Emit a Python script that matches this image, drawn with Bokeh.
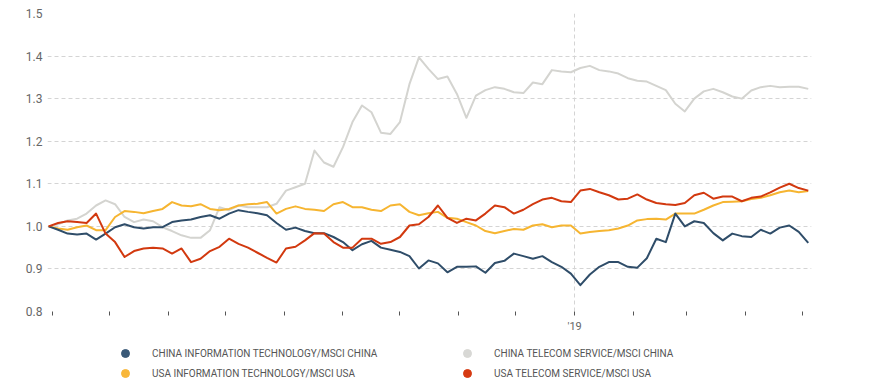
from datetime import datetime
import pandas as pd
from bokeh.plotting import figure
from bokeh.layouts import column
from bokeh.models import (Range1d, FixedTicker, CustomJSTickFormatter, Legend,
                          LegendItem, NumeralTickFormatter)
from bokeh.embed import file_html
from bokeh.resources import INLINE

# ---------------- data (relative performance, 5-day samples) ----------------
start_date = "2018-03-30"
sample_step = "5D"

china_it = [1.000, 0.992, 0.983, 0.981, 0.983, 0.969, 0.983, 0.998, 1.005, 0.998,
            0.995, 0.998, 0.998, 1.010, 1.014, 1.016, 1.022, 1.026, 1.018, 1.030,
            1.038, 1.034, 1.031, 1.026, 1.008, 0.992, 0.997, 0.989, 0.984, 0.984,
            0.975, 0.963, 0.944, 0.958, 0.966, 0.950, 0.945, 0.940, 0.930, 0.901,
            0.920, 0.913, 0.892, 0.905, 0.905, 0.906, 0.891, 0.914, 0.919, 0.936,
            0.930, 0.924, 0.930, 0.916, 0.905, 0.889, 0.862, 0.887, 0.905, 0.916,
            0.916, 0.905, 0.903, 0.925, 0.971, 0.963, 1.030, 1.000, 1.012, 1.008,
            0.984, 0.967, 0.983, 0.977, 0.975, 0.992, 0.983, 0.997, 1.002, 0.987,
            0.961]

usa_it = [1.000, 0.995, 0.992, 0.998, 1.002, 0.991, 0.991, 1.022, 1.036, 1.034,
          1.031, 1.036, 1.041, 1.057, 1.049, 1.047, 1.052, 1.041, 1.038, 1.041,
          1.049, 1.052, 1.053, 1.057, 1.030, 1.041, 1.047, 1.041, 1.039, 1.036,
          1.052, 1.057, 1.045, 1.045, 1.039, 1.036, 1.049, 1.052, 1.034, 1.026,
          1.031, 1.034, 1.020, 1.018, 1.010, 1.002, 0.989, 0.984, 0.989, 0.994,
          0.992, 1.002, 1.005, 0.998, 1.002, 1.002, 0.983, 0.987, 0.989, 0.991,
          0.995, 1.002, 1.014, 1.017, 1.018, 1.016, 1.030, 1.030, 1.030, 1.039,
          1.049, 1.057, 1.058, 1.059, 1.064, 1.067, 1.073, 1.080, 1.084, 1.080,
          1.083]

china_telecom = [1.000, 1.005, 1.014, 1.018, 1.030, 1.049, 1.061, 1.052, 1.022, 1.010,
                 1.016, 1.012, 0.998, 0.989, 0.979, 0.973, 0.973, 0.991, 1.045, 1.038,
                 1.049, 1.045, 1.045, 1.045, 1.053, 1.084, 1.092, 1.100, 1.178, 1.150,
                 1.140, 1.186, 1.245, 1.284, 1.268, 1.220, 1.217, 1.245, 1.334, 1.397,
                 1.370, 1.346, 1.352, 1.311, 1.255, 1.307, 1.320, 1.327, 1.323, 1.315,
                 1.313, 1.338, 1.334, 1.367, 1.364, 1.362, 1.372, 1.377, 1.367, 1.364,
                 1.359, 1.348, 1.342, 1.340, 1.330, 1.320, 1.288, 1.270, 1.300, 1.317,
                 1.323, 1.315, 1.305, 1.300, 1.319, 1.327, 1.330, 1.327, 1.328, 1.328,
                 1.323]

usa_telecom = [1.000, 1.008, 1.012, 1.010, 1.008, 1.030, 0.983, 0.963, 0.928, 0.942,
               0.948, 0.950, 0.948, 0.936, 0.948, 0.916, 0.924, 0.942, 0.952, 0.971,
               0.959, 0.950, 0.938, 0.926, 0.915, 0.948, 0.952, 0.967, 0.984, 0.983,
               0.963, 0.950, 0.950, 0.971, 0.971, 0.959, 0.963, 0.975, 1.002, 1.005,
               1.022, 1.049, 1.020, 1.008, 1.018, 1.014, 1.030, 1.049, 1.045, 1.030,
               1.039, 1.052, 1.063, 1.067, 1.059, 1.057, 1.084, 1.088, 1.080, 1.073,
               1.063, 1.065, 1.075, 1.063, 1.055, 1.052, 1.050, 1.055, 1.073, 1.079,
               1.065, 1.070, 1.070, 1.059, 1.067, 1.070, 1.080, 1.091, 1.100, 1.090,
               1.084]

series_labels = ["CHINA INFORMATION TECHNOLOGY/MSCI CHINA",
                 "CHINA TELECOM SERVICE/MSCI CHINA",
                 "USA INFORMATION TECHNOLOGY/MSCI USA",
                 "USA TELECOM SERVICE/MSCI USA"]

y_ticks = [0.8, 0.9, 1.0, 1.1, 1.2, 1.3, 1.4, 1.5]
month_ticks = list(pd.date_range("2018-04-01", "2019-05-01", freq="MS"))
x_tick_labels = ["'19" if d.month == 1 else "" for d in month_ticks]

# ---------------- styling ----------------
C_BLUE = "#2f4d69"
C_GRAY = "#d4d4d0"
C_YELLOW = "#f6b531"
C_RED = "#d2390f"
M_BLUE = "#3a5a78"
M_GRAY = "#d8d8d5"
M_YELLOW = "#f8b73a"
M_RED = "#d63a12"
GRID = "#d4d4d4"
TXT = "#555555"

dates = pd.date_range(start_date, periods=len(china_it), freq=sample_step)

def ms(ts):
    return pd.Timestamp(ts).value / 1e6

p = figure(width=866, height=336, x_axis_type="datetime",
           output_backend="svg", toolbar_location=None,
           x_range=Range1d(datetime(2018, 3, 29, 10), datetime(2019, 5, 5, 17)),
           y_range=Range1d(0.8, 1.5),
           min_border_left=47, min_border_right=55, min_border_top=13,
           min_border_bottom=25)
p.outline_line_color = None

p.line(dates, china_telecom, color=C_GRAY, line_width=2, line_join="round")
p.line(dates, usa_it, color=C_YELLOW, line_width=2, line_join="round")
p.line(dates, china_it, color=C_BLUE, line_width=2, line_join="round")
p.line(dates, usa_telecom, color=C_RED, line_width=2, line_join="round")

# y axis
p.yaxis.ticker = FixedTicker(ticks=y_ticks)
p.yaxis.formatter = NumeralTickFormatter(format="0.0")
p.yaxis.axis_line_color = None
p.yaxis.major_tick_line_color = None
p.yaxis.major_tick_out = 0
p.yaxis.major_tick_in = 0
p.yaxis.minor_tick_line_color = None
p.yaxis.major_label_standoff = 5
p.yaxis.major_label_text_font = "Roboto"
p.yaxis.major_label_text_font_size = "12px"
p.yaxis.major_label_text_color = "#666666"

# x axis
tick_ms = [ms(d) for d in month_ticks]
p.xaxis.ticker = FixedTicker(ticks=tick_ms)
p.xaxis.formatter = CustomJSTickFormatter(
    args=dict(tvals=tick_ms, tlabels=x_tick_labels),
    code="""
    let best = 0, bd = Infinity;
    for (let i = 0; i < tvals.length; i++) {
        const d = Math.abs(tvals[i] - tick);
        if (d < bd) { bd = d; best = i; }
    }
    return tlabels[best];
    """)
p.xaxis.axis_line_color = None
p.xaxis.major_tick_line_color = "#555555"
p.xaxis.major_tick_out = 4
p.xaxis.major_tick_in = 0
p.xaxis.minor_tick_line_color = None
p.xaxis.major_label_standoff = 4
p.xaxis.major_label_text_font = "Roboto"
p.xaxis.major_label_text_font_size = "11px"
p.xaxis.major_label_text_color = "#666666"

# grids
p.ygrid.ticker = FixedTicker(ticks=y_ticks)
p.ygrid.grid_line_color = GRID
p.ygrid.grid_line_dash = "4 3"
p.xgrid.ticker = FixedTicker(ticks=[ms(d) for d, l in zip(month_ticks, x_tick_labels) if l])
p.xgrid.grid_line_color = GRID
p.xgrid.grid_line_dash = "4 3"

# ---------------- legend strip ----------------
leg = figure(width=866, height=47, x_range=Range1d(0, 1), y_range=Range1d(0, 1),
             x_axis_type=None, y_axis_type=None, output_backend="svg",
             toolbar_location=None, min_border=0)
leg.outline_line_color = None
# series markers (their data lies outside this strip's ranges, only the legend shows)
g1 = leg.scatter(dates, china_it, marker="circle", size=10, color=M_BLUE)
g2 = leg.scatter(dates, china_telecom, marker="circle", size=10, color=M_GRAY)
g3 = leg.scatter(dates, usa_it, marker="circle", size=10, color=M_YELLOW)
g4 = leg.scatter(dates, usa_telecom, marker="circle", size=10, color=M_RED)

legend = Legend(items=[
    LegendItem(label=series_labels[0], renderers=[g1]),
    LegendItem(label=series_labels[1], renderers=[g2]),
    LegendItem(label=series_labels[2], renderers=[g3]),
    LegendItem(label=series_labels[3], renderers=[g4]),
], ncols=2, orientation="horizontal", location=(68, 0))
legend.margin = 0
legend.padding = 0
legend.spacing = 0
legend.glyph_width = 20
legend.glyph_height = 20
legend.label_height = 20
legend.label_width = 305
legend.label_standoff = 17
legend.label_text_font = "Roboto"
legend.label_text_font_size = "10px"
legend.label_text_color = TXT
legend.border_line_color = None
legend.background_fill_alpha = 0
leg.add_layout(legend)

layout = column(p, leg, spacing=0)
open("out.html", "w").write(file_html(layout, INLINE))
